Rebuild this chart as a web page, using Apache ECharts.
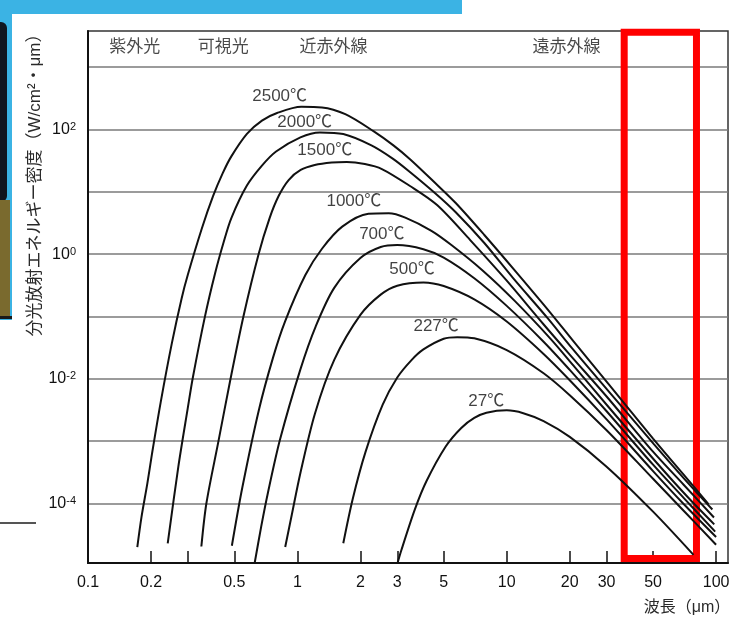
<!DOCTYPE html>
<html>
<head>
<meta charset="utf-8">
<script src="https://cdn.jsdelivr.net/npm/echarts@6/dist/echarts.min.js"></script>
<style>
  html, body { margin: 0; padding: 0; background: #fff; }
  #chart { width: 742px; height: 620px; }
</style>
</head>
<body>
<div id="chart"></div>
<script>
// Blackbody spectral exitance, W/(cm²·µm), against wavelength in µm.
const wl_2500 = [0.172, 0.18, 0.1921, 0.2022, 0.2224, 0.2514, 0.28, 0.3, 0.35, 0.3956, 0.4401, 0.4838, 0.5741, 0.6773, 0.8, 1.045, 1.311, 1.694, 2.309, 2.886, 3.463, 4.567, 5.708, 7.817, 10.92, 16.03, 20.9, 30.67, 50, 70, 92];
const ex_2500 = [2.0e-5, 6.0e-5, 2.1e-4, 6.3e-4, 4.2e-3, 3.7e-2, 0.195, 0.47, 2.6, 8.5, 19.9, 37, 85, 139, 184, 231, 226, 176, 94, 55, 33, 13.7, 6.6, 2.03, 0.55, 0.119, 0.0395, 8.2e-3, 1.1e-3, 2.9e-4, 9.8e-5];

const wl_2000 = [0.2403, 0.2701, 0.2992, 0.317, 0.3618, 0.4044, 0.4451, 0.4838, 0.5741, 0.6773, 0.7912, 1.034, 1.282, 1.657, 2.258, 2.854, 3.425, 4.567, 5.708, 7.817, 10.68, 15.68, 20.45, 30.33, 50.56, 71.56, 96];
const ex_2000 = [2.3e-5, 3.9e-4, 3.3e-3, 0.0106, 0.0996, 0.49, 1.58, 3.8, 12.6, 26.3, 44.3, 74.8, 89.8, 84.5, 55.6, 34.1, 21.2, 9.4, 4.7, 1.51, 0.42, 0.094, 0.0314, 6.6e-3, 8.9e-4, 2.35e-4, 8.0e-5];

const wl_1500 = [0.3479, 0.3676, 0.4197, 0.479, 0.5529, 0.6527, 0.7369, 0.8137, 0.9085, 1.037, 1.21, 1.46, 1.722, 2.101, 2.534, 3.452, 4.65, 6.693, 9.956, 14.98, 19.95, 30, 49.85, 70, 97.7];
const ex_1500 = [2.04e-5, 1.0e-4, 9.91e-4, 9.82e-3, 0.101, 1.0, 3.79, 8.55, 15.45, 22.4, 26.9, 29.5, 30.1, 27.9, 23.2, 12.4, 6.13, 1.68, 0.382, 0.075, 0.0247, 5.2e-3, 6.85e-4, 2.0e-4, 5.96e-5];

const wl_1000 = [0.4866, 0.5462, 0.6554, 0.7646, 0.8738, 1.092, 1.311, 1.638, 2.185, 2.731, 3.277, 4.369, 5.462, 7.646, 10.92, 16.2, 21.13, 31.0, 51.4, 73.16, 98];
const ex_1000 = [2.1e-5, 1.82e-4, 3.2e-3, 0.0217, 0.0836, 0.462, 1.22, 2.76, 4.44, 4.53, 3.86, 2.37, 1.39, 0.553, 0.178, 0.0438, 0.0154, 3.37e-3, 4.72e-4, 1.27e-4, 4.63e-5];

const wl_700 = [0.6202, 0.6718, 0.7235, 0.8269, 1.034, 1.224, 1.5, 2, 2.5, 3, 4, 5, 7, 10, 15, 20, 30, 50, 70, 99];
const ex_700 = [9.5e-6, 4.25e-5, 1.49e-4, 1.07e-3, 0.0142, 0.0696, 0.288, 0.866, 1.30, 1.40, 1.20, 0.882, 0.411, 0.148, 0.0394, 0.0139, 3.02e-3, 4.19e-4, 1.23e-4, 3.53e-5];

const wl_500 = [0.8748, 0.9406, 1.034, 1.213, 1.5, 2, 2.5, 3, 4, 5, 7, 10, 15, 20, 30, 50, 70, 100];
const ex_500 = [2.0e-5, 6.6e-5, 3.09e-4, 2.76e-3, 0.0201, 0.106, 0.224, 0.312, 0.352, 0.308, 0.188, 0.0829, 0.025, 9.48e-3, 2.23e-3, 3.31e-4, 9.81e-5, 2.9e-5];

const wl_227 = [1.657, 1.837, 2.113, 2.556, 3, 3.5, 4, 5, 5.8, 7, 10, 15, 20, 30, 50, 70, 100];
const ex_227 = [2.3e-5, 1.17e-4, 6.6e-4, 3.84e-3, 0.0105, 0.0198, 0.0296, 0.044, 0.0466, 0.0446, 0.0289, 0.0123, 5.47e-3, 1.5e-3, 2.49e-4, 7.66e-5, 2.18e-5];

const wl_27 = [2.979, 3.135, 3.638, 4.134, 5.111, 6.066, 7, 8, 10, 12, 15, 20, 30, 50, 78];
const ex_27 = [9.8e-6, 1.76e-5, 7.97e-5, 2.27e-4, 8.2e-4, 1.63e-3, 2.36e-3, 2.85e-3, 3.12e-3, 2.81e-3, 2.10e-3, 1.17e-3, 3.9e-4, 7.4e-5, 1.5e-5];

const curveNames = ['2500℃', '2000℃', '1500℃', '1000℃', '700℃', '500℃', '227℃', '27℃'];
const curveWl = [wl_2500, wl_2000, wl_1500, wl_1000, wl_700, wl_500, wl_227, wl_27];
const curveEx = [ex_2500, ex_2000, ex_1500, ex_1000, ex_700, ex_500, ex_227, ex_27];

// where each temperature tag sits, as [wavelength, exitance]
const curveTagAt = [[0.823, 345], [1.084, 132], [1.352, 46.8], [1.861, 7.1], [2.532, 2.10], [3.53, 0.574], [4.60, 0.0697], [7.98, 4.35e-3]];

// spectral regions named along the top strip
const bandNames = ['紫外光', '可視光', '近赤外線', '遠赤外線'];
const bandAt = [0.167, 0.443, 1.49, 19.3];
const bandLevel = 2115;

// axis ticks
const xTickVals = [0.2, 0.3, 0.5, 1, 2, 3, 5, 10, 20, 30, 50, 100];
const xLabelVals = [0.1, 0.2, 0.5, 1, 2, 3, 5, 10, 20, 30, 50, 100];
const yGridVals = [1e-4, 1e-3, 1e-2, 1e-1, 1, 10, 100, 1000];
const yLabelVals = [1e-4, 1e-2, 1, 100];

// highlighted far-infrared window
const windowWl = [36.4, 80.6];
const windowEx = [1.31e-5, 3616];

const FONT = "'Liberation Sans', 'Noto Sans CJK JP', sans-serif";
const INK = '#111';

const chart = echarts.init(document.getElementById('chart'), null, { renderer: 'canvas' });

const series = curveNames.map((name, i) => ({
  name,
  type: 'line',
  data: curveWl[i].map((w, j) => [w, curveEx[i][j]]),
  showSymbol: false,
  symbol: 'none',
  smooth: 0.3,
  clip: true,
  lineStyle: { color: INK, width: 2 },
  z: 3,
  silent: true
}));

series.push({
  name: 'tags',
  type: 'scatter',
  data: curveTagAt.map((p, i) => [p[0], p[1], curveNames[i]]),
  symbolSize: 0,
  label: {
    show: true, position: 'inside',
    formatter: p => p.data[2],
    color: INK, fontSize: 17, fontFamily: FONT
  },
  z: 5, silent: true
});

series.push({
  name: 'bands',
  type: 'scatter',
  data: bandAt.map((w, i) => [w, bandLevel, bandNames[i]]),
  symbolSize: 0,
  label: {
    show: true, position: 'inside',
    formatter: p => p.data[2],
    color: '#1c1c1c', fontSize: 17, fontFamily: FONT
  },
  z: 5, silent: true
});

series.push({
  name: 'window',
  type: 'line',
  data: [],
  silent: true,
  z: 10,
  markArea: {
    silent: true,
    itemStyle: { color: 'rgba(0,0,0,0)', borderColor: '#ff0000', borderWidth: 7 },
    data: [[{ coord: [windowWl[0], windowEx[1]] }, { coord: [windowWl[1], windowEx[0]] }]]
  }
});

const supers = { '-4': '-4', '-2': '-2', '0': '0', '2': '2' };

chart.setOption({
  animation: false,
  backgroundColor: '#ffffff',
  grid: {
    left: 88, right: 14, top: 31, bottom: 57,
    show: true, borderColor: '#333', borderWidth: 1.5, backgroundColor: '#ffffff'
  },
  xAxis: {
    type: 'log', logBase: 10, min: 0.1, max: 114,
    axisLine: { show: true, onZero: false, lineStyle: { color: INK, width: 2 } },
    axisTick: { show: true, inside: true, length: 12, customValues: xTickVals, lineStyle: { color: INK, width: 1.5 } },
    axisLabel: {
      show: true, customValues: xLabelVals, margin: 12,
      formatter: v => String(+v.toPrecision(3)),
      color: INK, fontSize: 16, fontFamily: FONT
    },
    splitLine: { show: false }
  },
  yAxis: {
    type: 'log', logBase: 10, min: 1.11e-5, max: 3800,
    axisLine: { show: true, onZero: false, lineStyle: { color: INK, width: 2 } },
    axisTick: { show: false, customValues: yGridVals },
    splitLine: { show: true, lineStyle: { color: '#7a7a7a', width: 1.5 } },
    axisLabel: {
      show: true, customValues: yLabelVals, margin: 12,
      formatter: v => {
        const p = String(Math.round(Math.log10(v)));
        return '{b|10}{s|' + supers[p] + '}';
      },
      rich: {
        b: { fontSize: 16, color: INK, fontFamily: FONT },
        s: { fontSize: 11, color: INK, fontFamily: FONT, verticalAlign: 'top' }
      }
    }
  },
  graphic: [
    // slide backdrop peeking in at the top-left corner
    { type: 'rect', shape: { x: 0, y: 0, width: 462, height: 14 }, style: { fill: '#3bb3e4' }, z: -10 },
    { type: 'rect', shape: { x: 0, y: 0, width: 12, height: 320 }, style: { fill: '#3bb3e4' }, z: -10 },
    { type: 'rect', shape: { x: 0, y: 22, width: 7, height: 180, r: [0, 6, 6, 0] }, style: { fill: '#10161f' }, z: -9 },
    { type: 'rect', shape: { x: 0, y: 200, width: 10, height: 117 }, style: { fill: '#7a6a2e' }, z: -9 },
    { type: 'rect', shape: { x: 0, y: 316, width: 12, height: 3 }, style: { fill: '#1a1a1a' }, z: -9 },
    { type: 'rect', shape: { x: 0, y: 522, width: 36, height: 2 }, style: { fill: '#555' }, z: -9 },
    {
      type: 'text', x: 35, y: 181, rotation: Math.PI / 2,
      style: {
        text: '分光放射エネルギー密度（W/cm²・μm）',
        font: '17px ' + FONT, fill: '#2a2a2a', textAlign: 'center', textVerticalAlign: 'middle'
      }
    },
    {
      type: 'text', x: 687, y: 608,
      style: {
        text: '波長（μm）',
        font: '16px ' + FONT, fill: '#2a2a2a', textAlign: 'center', textVerticalAlign: 'middle'
      }
    }
  ],
  series
});
</script>
</body>
</html>
